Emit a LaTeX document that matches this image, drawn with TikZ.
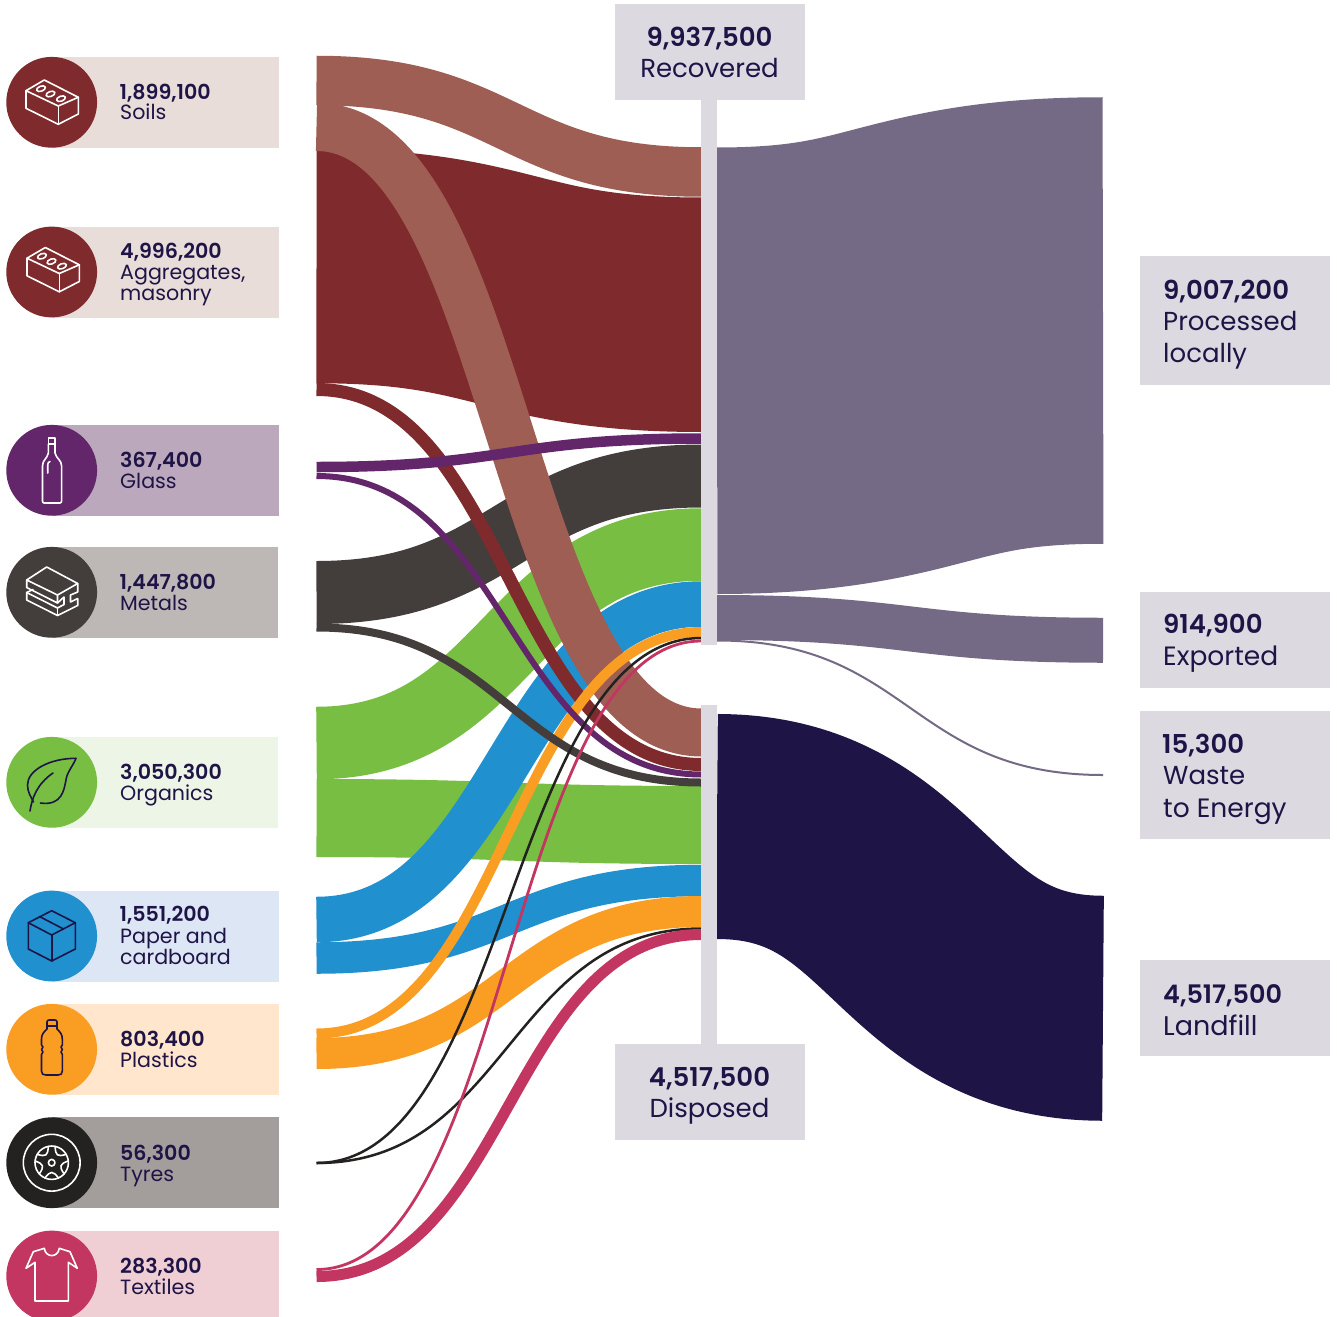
\documentclass[tikz,border=0pt]{standalone}
\usepackage{fontspec}
\usetikzlibrary{calc}
\setmainfont{Poppins}
\newfontfamily\numfont{Poppins SemiBold}
\definecolor{navy}{HTML}{1E1446}
\definecolor{barc}{HTML}{DCD9E1}
\definecolor{soilc}{HTML}{9E5E54}
\definecolor{aggc}{HTML}{7F2A2C}
\definecolor{glassc}{HTML}{63266A}
\definecolor{metalc}{HTML}{433E3C}
\definecolor{orgc}{HTML}{78BE43}
\definecolor{paperc}{HTML}{2190CF}
\definecolor{plastc}{HTML}{FA9E23}
\definecolor{tyrec}{HTML}{232220}
\definecolor{textc}{HTML}{C43662}
\definecolor{procc}{HTML}{756A86}
\definecolor{aggbg}{HTML}{E9DDD9}
\definecolor{glassbg}{HTML}{BBA8BC}
\definecolor{metalbg}{HTML}{BDB8B6}
\definecolor{orgbg}{HTML}{EDF5E6}
\definecolor{paperbg}{HTML}{DDE6F5}
\definecolor{plastbg}{HTML}{FFE6CC}
\definecolor{tyrebg}{HTML}{A39E9C}
\definecolor{textbg}{HTML}{EFCFD3}
\newcommand\flowL[4]{\draw[draw=#1,line width=#2] (316.5,#3) .. controls (508.5,#3) and (508.5,#4) .. (701.5,#4);}
\newcommand\flowR[4]{\draw[draw=#1,line width=#2] (717,#3) .. controls (910,#3) and (910,#4) .. (1103,#4);}
% name, x, baseline, text
\newcommand\numlab[5]{\node[numtxt,font=\numfont\fontsize{#5}{#5}\selectfont] (#1) at (#2,#3) {#4};}
\newcommand\namelab[5]{\node[numtxt,font=\fontsize{#5}{#5}\selectfont] (#1) at (#2,#3) {#4};}
\newcommand\catbg[6]{\fill[#1] (52,#3) rectangle (#5,#4); \fill[#2] (51.7,#6) circle (45.4);}
\tikzset{
  numtxt/.style={anchor=base west,inner sep=0pt,text=navy},
  ctr/.style={anchor=base,inner sep=0pt,text=navy},
  iconw/.style={draw=white,line width=1.6pt,line join=round,line cap=round},
  iconn/.style={draw=navy,line width=1.6pt,line join=round,line cap=round},
}
\begin{document}
\begin{tikzpicture}[x=1pt,y=-1pt]
\clip (0,0) rectangle (1337,1316);
\fill[white] (0,0) rectangle (1337,1316);
% left flows
\flowL{orgc}{78}{818}{825}
\flowL{metalc}{63}{592.5}{476}
\flowL{orgc}{72.5}{743}{544.5}
\flowL{aggc}{234.5}{266}{314.75}
\flowL{soilc}{49.5}{80.5}{172}
\flowL{paperc}{31.5}{958}{880.5}
\flowL{paperc}{45.5}{919.5}{604}
\flowL{plastc}{31}{1053.5}{911.5}
\flowL{soilc}{48}{127}{732.5}
\flowL{aggc}{13}{389.5}{764.5}
\flowL{plastc}{10}{1033.5}{632}
\flowL{glassc}{10.5}{467}{438.5}
\flowL{glassc}{6}{476}{774.5}
\flowL{metalc}{8}{627.5}{782.5}
\flowL{tyrec}{2.5}{1163}{638}
\flowL{tyrec}{2.5}{1163}{928.5}
\flowL{textc}{2.8}{1269.5}{641}
\flowL{textc}{11}{1276.5}{934.5}
% right flows
\flowR{procc}{446.5}{370.75}{320.5}
\flowR{procc}{45}{617.5}{640.25}
\flowR{procc}{2}{640.5}{775}
\flowR{navy}{225}{826.5}{1008.25}
% bars and boxes
\fill[barc] (701,100) rectangle (717,644.5);
\fill[barc] (701,705) rectangle (717,1044);
\fill[barc] (615,4) rectangle (805,100);
\fill[barc] (615,1044) rectangle (805,1140);
\fill[barc] (1140,256) rectangle (1330,385);
\fill[barc] (1140,592) rectangle (1330,688);
\fill[barc] (1140,711) rectangle (1330,839);
\fill[barc] (1140,960) rectangle (1330,1056);
% box labels
\node[ctr,font=\numfont\fontsize{26}{26}\selectfont] (recn) at (709.5,46.5) {9,937,500};
\node[ctr,font=\fontsize{26}{26}\selectfont] (rect) at (709.5,78) {Recovered};
\node[ctr,font=\numfont\fontsize{26}{26}\selectfont] (disn) at (709.5,1086) {4,517,500};
\node[ctr,font=\fontsize{26}{26}\selectfont] (dist) at (709.5,1117) {Disposed};
\numlab{pn}{1163}{299}{9,007,200}{26}
\namelab{pa}{1163}{330}{Processed}{26}
\namelab{pb}{1163}{362}{locally}{26}
\numlab{en}{1163}{633}{914,900}{26}
\namelab{ea}{1163}{665}{Exported}{26.5}
\numlab{wn}{1162}{753}{15,300}{26}
\namelab{wa}{1163}{784}{Waste}{26}
\namelab{wb}{1163}{817}{to Energy}{26.5}
\numlab{ln}{1163}{1003}{4,517,500}{25.5}
\namelab{la}{1163}{1035}{Landfill}{27}
% category tiles
\catbg{aggbg}{aggc}{57}{147.7}{279}{102.3}
\catbg{aggbg}{aggc}{227}{318}{279}{272}
\catbg{glassbg}{glassc}{425}{516}{279}{470.3}
\catbg{metalbg}{metalc}{547}{638}{278}{592.3}
\catbg{orgbg}{orgc}{737}{828}{278}{782.3}
\catbg{paperbg}{paperc}{891}{982}{279}{936}
\catbg{plastbg}{plastc}{1004}{1095}{279}{1049.3}
\catbg{tyrebg}{tyrec}{1117}{1208}{279}{1162.7}
\catbg{textbg}{textc}{1231}{1322}{279}{1276}
% left labels
\numlab{n1}{119.5}{100}{1,899,100}{20.6}
\namelab{t1}{120}{120}{Soils}{20.6}
\numlab{n2}{120}{258}{4,996,200}{20.6}
\namelab{t2}{120}{279}{Aggregates,}{20.6}
\namelab{t2b}{120}{300}{masonry}{20.6}
\numlab{n3}{120}{467}{367,400}{20.6}
\namelab{t3}{120}{488}{Glass}{20.6}
\numlab{n4}{119.5}{589}{1,447,800}{20.6}
\namelab{t4}{120}{610}{Metals}{20.6}
\numlab{n5}{120}{779}{3,050,300}{20.6}
\namelab{t5}{120}{800}{Organics}{20.6}
\numlab{n6}{119.5}{921}{1,551,200}{20.6}
\namelab{t6}{120}{943}{Paper and}{20.6}
\namelab{t6b}{120}{964}{cardboard}{20.6}
\numlab{n7}{120}{1046}{803,400}{20.6}
\namelab{t7}{120}{1067}{Plastics}{20.6}
\numlab{n8}{120}{1160}{56,300}{20.6}
\namelab{t8}{120}{1181}{Tyres}{20.6}
\numlab{n9}{120}{1273}{283,300}{20.6}
\namelab{t9}{120}{1294}{Textiles}{20.6}
% brick icons
\foreach \dx/\dy in {0/0,1/167.5}{
\begin{scope}[shift={(\dx,\dy)}]
\draw[iconw] (26,90.7) -- (44.3,80) -- (78.3,97.3) -- (58.3,106) -- cycle;
\draw[iconw] (26,90.7) -- (26,108.3) -- (58.3,124.3) -- (78.3,114) -- (78.3,97.3);
\draw[iconw] (58.3,106) -- (58.3,124.3);
\foreach \cx/\cy in {41/88.7,50.5/94,61/98.7}{\draw[iconw,rotate around={20:(\cx,\cy)}] (\cx,\cy) ellipse (4.6 and 2.5);}
\end{scope}}
% wine bottle
\draw[iconw] (48.4,444) -- (48.4,438) -- (55,438) -- (55,444) -- cycle;
\draw[iconw] (48.4,444) -- (48.4,453) .. controls (47,459) and (42.5,460) .. (42.5,466) -- (42.5,501) .. controls (42.5,502) and (43,503) .. (44,503) -- (60,503) .. controls (61,503) and (61.6,502) .. (61.6,501) -- (61.6,466) .. controls (61.6,460) and (56.5,459) .. (55,453) -- (55,444);
\draw[iconw] (47.7,473) -- (47.7,465) .. controls (47.7,463) and (48.5,462) .. (50,461.5);
% metal slabs
\draw[iconw] (26.7,580) -- (46.7,567) -- (77.7,583.5) -- (57.5,595) -- cycle;
\draw[iconw] (26.7,580) -- (26.7,587.5) -- (57.5,603) -- (57.5,595);
\draw[iconw] (77.7,583.5) -- (77.7,592) -- (70.5,595) -- (70.5,602) -- (77.7,598.5) -- (77.7,605.5) -- (57.5,615.5) -- (26.7,600) -- (26.7,592.5) -- (33,589.5);
\draw[iconw] (26.7,592.5) -- (57.5,608) -- (64,604.5) -- (64,597) -- (57.5,603);
\draw[iconw] (57.5,608) -- (57.5,615.5);
% leaf
\draw[iconn] (76,758.3) .. controls (50,758.3) and (27.5,770) .. (27.5,785) .. controls (27.5,792) and (31,797) .. (33.5,802);
\draw[iconn] (40.5,803) .. controls (62,806) and (64,790) .. (66,780) .. controls (67,772) and (73,766) .. (76,758.3);
\draw[iconn] (30,811) .. controls (32,798) and (37,784) .. (53,773);
% carton
\draw[iconn] (51.7,910.7) -- (75.3,922.7) -- (75.3,949) -- (51.7,961) -- (28.3,949) -- (28.3,922.7) -- cycle;
\draw[iconn] (28.3,922.7) -- (51.7,935) -- (75.3,922.7);
\draw[iconn] (51.7,935) -- (51.7,961);
\draw[iconn] (39.5,916.5) -- (63.5,929);
% plastic bottle
\draw[iconn] (47,1026) -- (47,1022) .. controls (47,1020.5) and (48,1020) .. (49,1020) -- (55,1020) .. controls (56,1020) and (57,1020.5) .. (57,1022) -- (57,1026) -- cycle;
\draw[iconn] (47,1026) -- (47,1029) .. controls (44,1032) and (41.5,1034) .. (41.5,1039) -- (41.5,1045) .. controls (41.5,1046) and (43,1046.5) .. (43,1047) .. controls (43,1048) and (41.5,1048.5) .. (41.5,1049.5) .. controls (41.5,1050.5) and (43,1051) .. (43,1052) .. controls (43,1053) and (41.5,1053.5) .. (41.5,1054.5) -- (41.5,1071) .. controls (41.5,1074) and (43,1075) .. (46,1075) -- (58,1075) .. controls (61,1075) and (62.3,1074) .. (62.3,1071) -- (62.3,1054.5) .. controls (62.3,1053.5) and (61,1053) .. (61,1052) .. controls (61,1051) and (62.3,1050.5) .. (62.3,1049.5) .. controls (62.3,1048.5) and (61,1048) .. (61,1047) .. controls (61,1046.5) and (62.3,1046) .. (62.3,1045) -- (62.3,1039) .. controls (62.3,1034) and (60,1032) .. (57,1029) -- (57,1026);
% tyre
\draw[iconw] (51.7,1162.7) circle (28.4);
\draw[iconw] (51.7,1162.7) circle (16.7);
\draw[iconw] (51.7,1162.7) circle (3.3);
\foreach \a in {18,90,162,234,306}{
\draw[iconw] ($(51.7,1162.7)+(\a-24:16.7)$) .. controls ($(51.7,1162.7)+(\a-8:8)$) and ($(51.7,1162.7)+(\a+8:8)$) .. ($(51.7,1162.7)+(\a+24:16.7)$);}
% t-shirt
\draw[iconw] (44.3,1248.3) -- (33.3,1251.7) -- (26,1268.3) -- (35,1262.3) -- (35,1301) -- (68.3,1301) -- (68.3,1262.3) -- (77.3,1268.3) -- (70,1251.7) -- (59.3,1248.3) .. controls (58,1258) and (45.5,1258) .. (44.3,1248.3) -- cycle;
\end{tikzpicture}
\end{document}
